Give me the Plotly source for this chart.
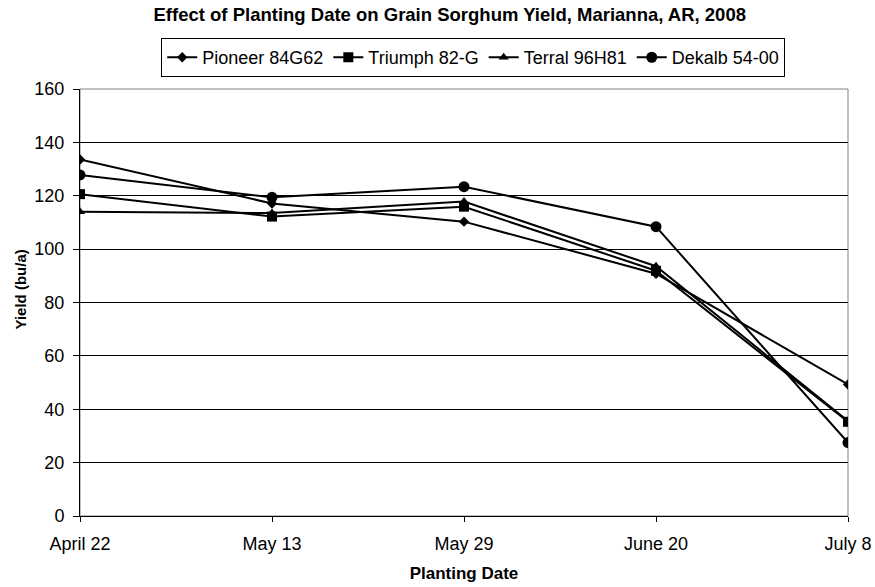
import plotly.graph_objects as go

dates = ["April 22", "May 13", "May 29", "June 20", "July 8"]
pioneer = [133.6, 117.1, 110.3, 90.8, 49.3]
triumph = [120.6, 112.2, 115.9, 91.9, 35.3]
terral = [114.0, 113.5, 117.8, 93.6, 35.6]
dekalb = [127.8, 119.4, 123.4, 108.4, 27.5]

series = [
    ("Pioneer 84G62", pioneer, "diamond", 8),
    ("Triumph 82-G", triumph, "square", 10),
    ("Terral 96H81", terral, "triangle-up", 9),
    ("Dekalb 54-00", dekalb, "circle", 11),
]

fig = go.Figure()
for name, vals, sym, sz in series:
    fig.add_trace(go.Scatter(
        x=dates, y=vals, name=name, mode="lines+markers",
        line=dict(color="black", width=2),
        marker=dict(symbol=sym, size=sz, color="black"),
    ))

font = "Liberation Sans, Arial, sans-serif"
fig.update_layout(
    width=875, height=587,
    margin=dict(l=80, r=27, t=89, b=71),
    paper_bgcolor="white", plot_bgcolor="white",
    font=dict(family=font, size=18, color="black"),
    title=dict(text="<b>Effect of Planting Date on Grain Sorghum Yield, Marianna, AR, 2008</b>",
               x=0.514, xanchor="center", y=0.975, yanchor="middle",
               font=dict(size=18.5)),
    legend=dict(orientation="h", x=0.512, xanchor="center", y=1.028, yanchor="bottom",
                bordercolor="black", borderwidth=1, font=dict(size=18),
                tracegroupgap=0, itemwidth=30),
    showlegend=True,
    shapes=[dict(type="rect", xref="paper", yref="paper", x0=0, x1=1, y0=0, y1=1,
                 line=dict(color="#808080", width=1), layer="below")],
    annotations=[dict(text="<b>Yield (bu/a)</b>", textangle=-90, showarrow=False,
                      xref="paper", yref="paper", x=-0.077, y=0.53,
                      xanchor="center", yanchor="middle",
                      font=dict(size=15, family=font, color="black"))],
)
fig.update_xaxes(
    type="category", range=[0, 4], showline=True, linecolor="black", linewidth=1,
    ticks="outside", ticklen=5, tickcolor="black", showgrid=False,
    ticklabelstandoff=6, automargin=False,
    title=dict(text="<b>Planting Date</b>", font=dict(size=17), standoff=14),
    tickfont=dict(size=18),
)
fig.update_yaxes(
    range=[0, 160], dtick=20, showline=True, linecolor="black", linewidth=1,
    ticks="outside", ticklen=6, tickcolor="black",
    showgrid=True, gridcolor="black", gridwidth=1, zeroline=False,
    ticklabelstandoff=5, automargin=False,
    tickfont=dict(size=18),
)
fig.write_html("out.html")
